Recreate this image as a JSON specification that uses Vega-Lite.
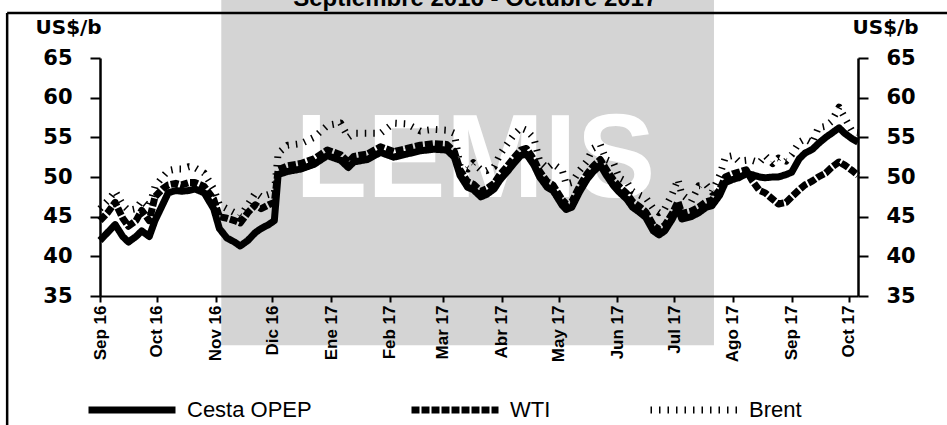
{
  "$schema": "https://vega.github.io/schema/vega-lite/v6.json",
  "width": 758,
  "height": 238,
  "autosize": {"type": "none"},
  "padding": {"left": 100, "top": 58, "right": 89, "bottom": 129},
  "background": "white",
  "config": {
    "view": {"stroke": null},
    "axis": {"grid": false, "zindex": 1, "domainColor": "black", "tickColor": "black", "labelColor": "black", "titleColor": "black"},
    "legend": {"orient": "none", "legendX": -15, "legendY": 305, "direction": "horizontal", "symbolType": "stroke", "symbolSize": 7569, "labelFontSize": 22, "labelFont": "Liberation Sans", "labelColor": "black", "columnPadding": 85, "labelOffset": 8, "title": null}
  },
  "datasets": {
    "periodo": [{"inicio": "2016-11-04", "fin": "2017-07-22", "titulo": "Septiembre 2016 - Octubre 2017"}],
    "precios": [
      {"fecha": "2016-09-01", "Cesta OPEP": 42.0, "WTI": 44.5, "Brent": 46.0},
      {"fecha": "2016-09-05", "Cesta OPEP": 43.0, "WTI": 45.5, "Brent": 47.0},
      {"fecha": "2016-09-09", "Cesta OPEP": 44.0, "WTI": 46.8, "Brent": 48.2},
      {"fecha": "2016-09-13", "Cesta OPEP": 42.5, "WTI": 44.8, "Brent": 46.5},
      {"fecha": "2016-09-16", "Cesta OPEP": 41.8, "WTI": 43.8, "Brent": 45.8},
      {"fecha": "2016-09-20", "Cesta OPEP": 42.5, "WTI": 44.5, "Brent": 46.0},
      {"fecha": "2016-09-23", "Cesta OPEP": 43.2, "WTI": 45.8, "Brent": 47.0},
      {"fecha": "2016-09-27", "Cesta OPEP": 42.5, "WTI": 44.5, "Brent": 46.2},
      {"fecha": "2016-09-30", "Cesta OPEP": 44.5, "WTI": 47.5, "Brent": 48.8},
      {"fecha": "2016-10-04", "Cesta OPEP": 46.5, "WTI": 48.5, "Brent": 50.0},
      {"fecha": "2016-10-07", "Cesta OPEP": 48.0, "WTI": 49.0, "Brent": 50.8},
      {"fecha": "2016-10-11", "Cesta OPEP": 48.3, "WTI": 49.2, "Brent": 51.0},
      {"fecha": "2016-10-14", "Cesta OPEP": 48.2, "WTI": 49.0, "Brent": 51.0},
      {"fecha": "2016-10-18", "Cesta OPEP": 48.3, "WTI": 49.3, "Brent": 51.3},
      {"fecha": "2016-10-21", "Cesta OPEP": 48.5, "WTI": 49.3, "Brent": 51.2},
      {"fecha": "2016-10-26", "Cesta OPEP": 48.0, "WTI": 48.8, "Brent": 50.5},
      {"fecha": "2016-10-31", "Cesta OPEP": 46.0, "WTI": 47.2, "Brent": 48.5},
      {"fecha": "2016-11-03", "Cesta OPEP": 43.5, "WTI": 45.0, "Brent": 46.5},
      {"fecha": "2016-11-07", "Cesta OPEP": 42.3, "WTI": 44.8, "Brent": 46.0},
      {"fecha": "2016-11-11", "Cesta OPEP": 41.8, "WTI": 44.5, "Brent": 45.5},
      {"fecha": "2016-11-14", "Cesta OPEP": 41.3, "WTI": 44.2, "Brent": 45.0},
      {"fecha": "2016-11-18", "Cesta OPEP": 42.0, "WTI": 45.5, "Brent": 46.5},
      {"fecha": "2016-11-22", "Cesta OPEP": 43.0, "WTI": 46.5, "Brent": 48.0},
      {"fecha": "2016-11-25", "Cesta OPEP": 43.5, "WTI": 46.0, "Brent": 47.5},
      {"fecha": "2016-11-29", "Cesta OPEP": 44.0, "WTI": 46.5, "Brent": 47.8},
      {"fecha": "2016-12-02", "Cesta OPEP": 44.5, "WTI": 46.8, "Brent": 48.0},
      {"fecha": "2016-12-04", "Cesta OPEP": 50.3, "WTI": 50.9, "Brent": 53.0},
      {"fecha": "2016-12-09", "Cesta OPEP": 50.7, "WTI": 51.4, "Brent": 54.0},
      {"fecha": "2016-12-16", "Cesta OPEP": 51.0, "WTI": 51.7, "Brent": 54.2},
      {"fecha": "2016-12-23", "Cesta OPEP": 51.6, "WTI": 52.3, "Brent": 55.0},
      {"fecha": "2016-12-30", "Cesta OPEP": 52.7, "WTI": 53.4, "Brent": 56.5},
      {"fecha": "2017-01-06", "Cesta OPEP": 52.1, "WTI": 52.8, "Brent": 56.8},
      {"fecha": "2017-01-10", "Cesta OPEP": 51.2, "WTI": 51.9, "Brent": 55.0},
      {"fecha": "2017-01-13", "Cesta OPEP": 51.9, "WTI": 52.6, "Brent": 55.5},
      {"fecha": "2017-01-20", "Cesta OPEP": 52.2, "WTI": 52.9, "Brent": 55.5},
      {"fecha": "2017-01-27", "Cesta OPEP": 53.1, "WTI": 53.8, "Brent": 55.5},
      {"fecha": "2017-02-03", "Cesta OPEP": 52.5, "WTI": 53.2, "Brent": 56.8},
      {"fecha": "2017-02-10", "Cesta OPEP": 52.9, "WTI": 53.6, "Brent": 56.7},
      {"fecha": "2017-02-17", "Cesta OPEP": 53.3, "WTI": 54.0, "Brent": 55.8},
      {"fecha": "2017-02-24", "Cesta OPEP": 53.5, "WTI": 54.2, "Brent": 56.0},
      {"fecha": "2017-03-03", "Cesta OPEP": 53.4, "WTI": 54.1, "Brent": 55.9},
      {"fecha": "2017-03-07", "Cesta OPEP": 52.5, "WTI": 53.2, "Brent": 55.5},
      {"fecha": "2017-03-10", "Cesta OPEP": 50.2, "WTI": 50.9, "Brent": 51.4},
      {"fecha": "2017-03-14", "Cesta OPEP": 48.7, "WTI": 49.4, "Brent": 51.0},
      {"fecha": "2017-03-17", "Cesta OPEP": 48.4, "WTI": 49.1, "Brent": 51.8},
      {"fecha": "2017-03-21", "Cesta OPEP": 47.5, "WTI": 48.2, "Brent": 50.9},
      {"fecha": "2017-03-24", "Cesta OPEP": 47.8, "WTI": 48.5, "Brent": 50.8},
      {"fecha": "2017-03-28", "Cesta OPEP": 48.5, "WTI": 49.2, "Brent": 51.3},
      {"fecha": "2017-03-31", "Cesta OPEP": 49.6, "WTI": 50.3, "Brent": 52.8},
      {"fecha": "2017-04-04", "Cesta OPEP": 50.7, "WTI": 51.4, "Brent": 54.2},
      {"fecha": "2017-04-07", "Cesta OPEP": 51.6, "WTI": 52.3, "Brent": 55.2},
      {"fecha": "2017-04-11", "Cesta OPEP": 52.7, "WTI": 53.4, "Brent": 56.2},
      {"fecha": "2017-04-14", "Cesta OPEP": 52.9, "WTI": 53.6, "Brent": 55.9},
      {"fecha": "2017-04-18", "Cesta OPEP": 51.5, "WTI": 52.2, "Brent": 54.9},
      {"fecha": "2017-04-21", "Cesta OPEP": 50.0, "WTI": 50.7, "Brent": 52.0},
      {"fecha": "2017-04-25", "Cesta OPEP": 48.7, "WTI": 49.4, "Brent": 51.1},
      {"fecha": "2017-04-28", "Cesta OPEP": 48.3, "WTI": 49.0, "Brent": 51.7},
      {"fecha": "2017-05-03", "Cesta OPEP": 46.4, "WTI": 47.1, "Brent": 50.8},
      {"fecha": "2017-05-05", "Cesta OPEP": 45.9, "WTI": 46.6, "Brent": 49.1},
      {"fecha": "2017-05-08", "Cesta OPEP": 46.2, "WTI": 46.9, "Brent": 49.3},
      {"fecha": "2017-05-12", "Cesta OPEP": 48.1, "WTI": 48.8, "Brent": 50.8},
      {"fecha": "2017-05-16", "Cesta OPEP": 49.7, "WTI": 50.4, "Brent": 52.0},
      {"fecha": "2017-05-19", "Cesta OPEP": 50.6, "WTI": 51.3, "Brent": 53.6},
      {"fecha": "2017-05-23", "Cesta OPEP": 51.5, "WTI": 52.2, "Brent": 54.1},
      {"fecha": "2017-05-26", "Cesta OPEP": 50.3, "WTI": 51.0, "Brent": 52.2},
      {"fecha": "2017-05-30", "Cesta OPEP": 48.9, "WTI": 49.6, "Brent": 51.8},
      {"fecha": "2017-06-02", "Cesta OPEP": 48.1, "WTI": 48.8, "Brent": 49.9},
      {"fecha": "2017-06-06", "Cesta OPEP": 47.2, "WTI": 47.9, "Brent": 49.4},
      {"fecha": "2017-06-09", "Cesta OPEP": 46.2, "WTI": 46.9, "Brent": 48.2},
      {"fecha": "2017-06-13", "Cesta OPEP": 45.5, "WTI": 46.2, "Brent": 47.7},
      {"fecha": "2017-06-16", "Cesta OPEP": 44.9, "WTI": 45.6, "Brent": 47.4},
      {"fecha": "2017-06-20", "Cesta OPEP": 43.2, "WTI": 43.9, "Brent": 46.0},
      {"fecha": "2017-06-23", "Cesta OPEP": 42.7, "WTI": 43.4, "Brent": 45.5},
      {"fecha": "2017-06-26", "Cesta OPEP": 43.2, "WTI": 43.9, "Brent": 46.0},
      {"fecha": "2017-06-30", "Cesta OPEP": 44.7, "WTI": 45.4, "Brent": 47.9},
      {"fecha": "2017-07-03", "Cesta OPEP": 46.2, "WTI": 46.9, "Brent": 49.7},
      {"fecha": "2017-07-05", "Cesta OPEP": 44.7, "WTI": 45.4, "Brent": 47.8},
      {"fecha": "2017-07-10", "Cesta OPEP": 45.0, "WTI": 45.7, "Brent": 46.9},
      {"fecha": "2017-07-14", "Cesta OPEP": 45.5, "WTI": 46.2, "Brent": 48.9},
      {"fecha": "2017-07-18", "Cesta OPEP": 46.2, "WTI": 46.9, "Brent": 49.0},
      {"fecha": "2017-07-21", "Cesta OPEP": 46.4, "WTI": 47.1, "Brent": 48.1},
      {"fecha": "2017-07-25", "Cesta OPEP": 47.7, "WTI": 48.4, "Brent": 50.2},
      {"fecha": "2017-07-28", "Cesta OPEP": 49.3, "WTI": 50.0, "Brent": 52.5},
      {"fecha": "2017-08-01", "Cesta OPEP": 49.7, "WTI": 50.4, "Brent": 52.7},
      {"fecha": "2017-08-04", "Cesta OPEP": 49.9, "WTI": 50.6, "Brent": 52.0},
      {"fecha": "2017-08-08", "Cesta OPEP": 50.4, "WTI": 50.9, "Brent": 52.1},
      {"fecha": "2017-08-11", "Cesta OPEP": 50.3, "WTI": 49.6, "Brent": 52.1},
      {"fecha": "2017-08-15", "Cesta OPEP": 50.0, "WTI": 48.3, "Brent": 51.8},
      {"fecha": "2017-08-18", "Cesta OPEP": 49.9, "WTI": 48.0, "Brent": 52.7},
      {"fecha": "2017-08-22", "Cesta OPEP": 50.0, "WTI": 47.2, "Brent": 51.7},
      {"fecha": "2017-08-25", "Cesta OPEP": 50.0, "WTI": 46.6, "Brent": 52.4},
      {"fecha": "2017-08-29", "Cesta OPEP": 50.3, "WTI": 46.8, "Brent": 52.0},
      {"fecha": "2017-09-01", "Cesta OPEP": 50.6, "WTI": 47.5, "Brent": 52.8},
      {"fecha": "2017-09-05", "Cesta OPEP": 52.3, "WTI": 48.4, "Brent": 54.4},
      {"fecha": "2017-09-08", "Cesta OPEP": 53.0, "WTI": 49.0, "Brent": 54.8},
      {"fecha": "2017-09-12", "Cesta OPEP": 53.5, "WTI": 49.5, "Brent": 54.3},
      {"fecha": "2017-09-15", "Cesta OPEP": 54.2, "WTI": 50.0, "Brent": 56.2},
      {"fecha": "2017-09-19", "Cesta OPEP": 55.0, "WTI": 50.5, "Brent": 56.4},
      {"fecha": "2017-09-22", "Cesta OPEP": 55.5, "WTI": 51.2, "Brent": 57.0},
      {"fecha": "2017-09-26", "Cesta OPEP": 56.2, "WTI": 51.9, "Brent": 58.8},
      {"fecha": "2017-09-29", "Cesta OPEP": 55.5, "WTI": 51.5, "Brent": 57.5},
      {"fecha": "2017-10-03", "Cesta OPEP": 54.8, "WTI": 50.8, "Brent": 55.7},
      {"fecha": "2017-10-06", "Cesta OPEP": 54.4, "WTI": 50.2, "Brent": 55.6}
    ]
  },
  "resolve": {"axis": {"x": "independent", "y": "independent"}},
  "layer": [
    {
      "data": {"name": "periodo"},
      "mark": {"type": "rect", "fill": "#d4d4d4", "clip": false},
      "encoding": {
        "x": {"field": "inicio", "type": "temporal", "scale": {"domain": [{"year": 2016, "month": 9, "date": 1}, {"year": 2017, "month": 10, "date": 6}]}, "axis": null},
        "x2": {"field": "fin"},
        "y": {"datum": 72.3, "type": "quantitative", "scale": {"domain": [35, 65], "nice": false, "zero": false}, "axis": null},
        "y2": {"datum": 28.8}
      }
    },
    {
      "data": {"name": "periodo"},
      "mark": {"type": "rule", "color": "black", "strokeWidth": 2.5, "clip": false},
      "encoding": {
        "x": {"datum": {"year": 2016, "month": 7, "date": 14}, "type": "temporal", "scale": {"domain": [{"year": 2016, "month": 9, "date": 1}, {"year": 2017, "month": 10, "date": 6}]}, "axis": null},
        "x2": {"datum": {"year": 2017, "month": 12, "date": 31}},
        "y": {"datum": 70.67, "type": "quantitative", "scale": {"domain": [35, 65], "nice": false, "zero": false},
          "axis": {"orient": "right", "values": [35, 40, 45, 50, 55, 60, 65], "title": "US$/b", "titleAngle": 0, "titleAlign": "left", "titleBaseline": "alphabetic", "titleX": -6, "titleY": -25, "titleFont": "DejaVu Sans", "titleFontWeight": "bold", "titleFontSize": 20, "labelFont": "DejaVu Sans", "labelFontWeight": "bold", "labelFontSize": 21, "labelPadding": 18, "tickSize": 10, "tickWidth": 2, "domainWidth": 2.5, "zindex": 1}}
      }
    },
    {
      "data": {"name": "periodo"},
      "mark": {"type": "rule", "color": "black", "strokeWidth": 2.5, "clip": false},
      "encoding": {
        "x": {"datum": {"year": 2016, "month": 7, "date": 14}, "type": "temporal", "scale": {"domain": [{"year": 2016, "month": 9, "date": 1}, {"year": 2017, "month": 10, "date": 6}]}, "axis": null},
        "y": {"datum": 70.67, "type": "quantitative", "scale": {"domain": [35, 65], "nice": false, "zero": false}, "axis": null},
        "y2": {"datum": 15}
      }
    },
    {
      "data": {"name": "periodo"},
      "mark": {"type": "text", "text": "LEMIS", "font": "Liberation Sans", "fontWeight": "bold", "fontSize": 118, "color": "white", "align": "center", "baseline": "middle", "clip": false},
      "encoding": {
        "x": {"datum": {"year": 2017, "month": 3, "date": 18}, "type": "temporal", "scale": {"domain": [{"year": 2016, "month": 9, "date": 1}, {"year": 2017, "month": 10, "date": 6}]}, "axis": null},
        "y": {"datum": 51.9, "type": "quantitative", "scale": {"domain": [35, 65], "nice": false, "zero": false}, "axis": null}
      }
    },
    {
      "data": {"name": "periodo"},
      "mark": {"type": "text", "font": "Liberation Sans", "fontWeight": "bold", "fontSize": 24, "color": "black", "align": "center", "baseline": "alphabetic", "clip": false},
      "encoding": {
        "text": {"field": "titulo"},
        "x": {"datum": {"year": 2017, "month": 3, "date": 18}, "type": "temporal", "scale": {"domain": [{"year": 2016, "month": 9, "date": 1}, {"year": 2017, "month": 10, "date": 6}]}, "axis": null},
        "y": {"datum": 71.55, "type": "quantitative", "scale": {"domain": [35, 65], "nice": false, "zero": false}, "axis": null}
      }
    },
    {
      "data": {"name": "precios"},
      "transform": [{"fold": ["Cesta OPEP", "WTI", "Brent"], "as": ["serie", "valor"]}],
      "mark": {"type": "line", "strokeJoin": "round", "clip": false},
      "encoding": {
        "x": {"field": "fecha", "type": "temporal", "scale": {"domain": [{"year": 2016, "month": 9, "date": 1}, {"year": 2017, "month": 10, "date": 6}]},
          "axis": {"orient": "bottom", "tickCount": {"interval": "month", "step": 1}, "labelExpr": "['Ene','Feb','Mar','Abr','May','Jun','Jul','Ago','Sep','Oct','Nov','Dic'][month(datum.value)] + ' ' + timeFormat(datum.value, '%y')", "labelAngle": 270, "labelAlign": "right", "labelBaseline": "middle", "labelFont": "Liberation Sans", "labelFontWeight": "bold", "labelFontSize": 17, "labelPadding": 3, "tickSize": 6, "tickWidth": 2, "domainWidth": 2, "title": null, "labelOverlap": false, "labelFlush": false, "labelBound": false, "zindex": 1}},
        "y": {"field": "valor", "type": "quantitative", "scale": {"domain": [35, 65], "nice": false, "zero": false},
          "axis": {"orient": "left", "values": [35, 40, 45, 50, 55, 60, 65], "title": "US$/b", "titleAngle": 0, "titleAlign": "left", "titleBaseline": "alphabetic", "titleX": -65, "titleY": -25, "titleFont": "DejaVu Sans", "titleFontWeight": "bold", "titleFontSize": 20, "labelFont": "DejaVu Sans", "labelFontWeight": "bold", "labelFontSize": 21, "labelPadding": 18, "tickSize": 10, "tickWidth": 2, "domainWidth": 2.5, "zindex": 1}},
        "color": {"field": "serie", "type": "nominal", "scale": {"domain": ["Cesta OPEP", "WTI", "Brent"], "range": ["black", "black", "black"]}, "legend": {"title": null}},
        "strokeDash": {"field": "serie", "type": "nominal", "scale": {"domain": ["Cesta OPEP", "WTI", "Brent"], "range": [[1, 0], [8, 2], [1.5, 7]]}, "legend": {"title": null}},
        "strokeWidth": {"field": "serie", "type": "ordinal", "scale": {"domain": ["Cesta OPEP", "WTI", "Brent"], "range": [7, 7, 1.4]}, "legend": {"title": null}}
      }
    }
  ]
}
